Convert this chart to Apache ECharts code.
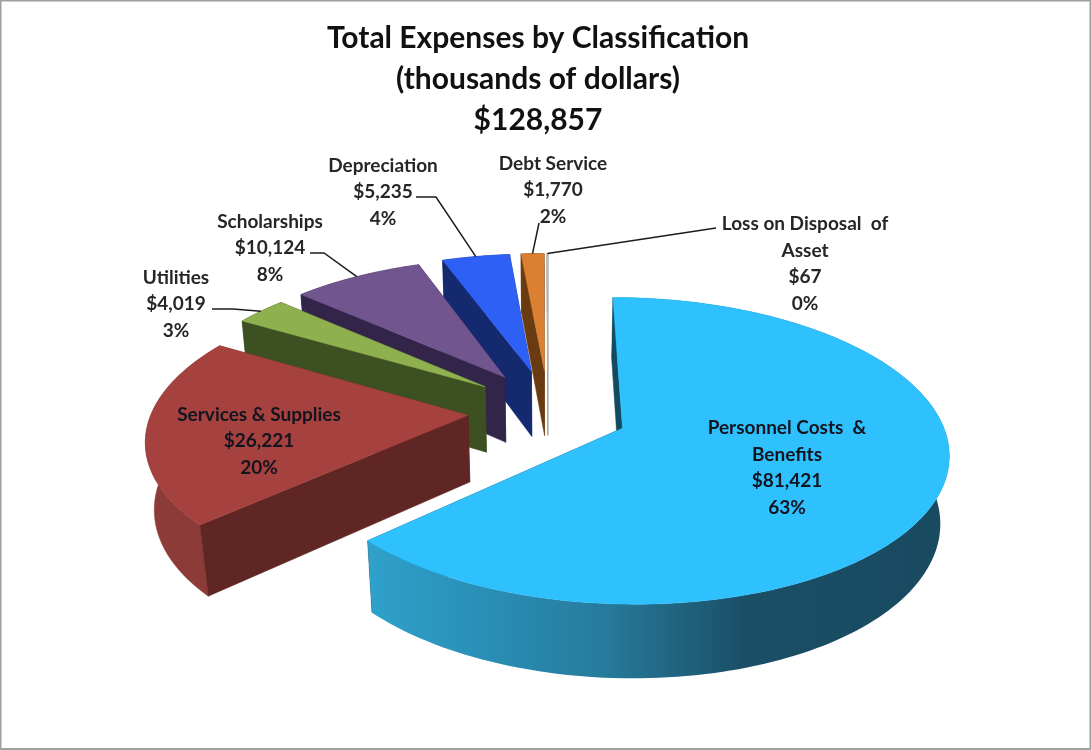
<!DOCTYPE html>
<html><head><meta charset="utf-8">
<style>html,body{margin:0;padding:0;background:#fff}#c{width:1091px;height:750px;filter:blur(0.45px)}</style>
<script src="https://cdn.jsdelivr.net/npm/echarts@6/dist/echarts.min.js"></script>
</head><body><div id="c"></div>
<script>
const titleLines = ['Total Expenses by Classification', '(thousands of dollars)', '$128,857'];
const categories = ['Personnel Costs  &\nBenefits', 'Services & Supplies', 'Utilities', 'Scholarships', 'Depreciation', 'Debt Service', 'Loss on Disposal  of\nAsset'];
const values = [81421, 26221, 4019, 10124, 5235, 1770, 67];
const amountLabels = ['$81,421', '$26,221', '$4,019', '$10,124', '$5,235', '$1,770', '$67'];
const percentLabels = ['63%', '20%', '3%', '8%', '4%', '2%', '0%'];

// colours: top face, radial wall, outer wall
const topColors = ['#2fc1fe', '#a5423f', '#8fb04f', '#71558f', '#2f60f5', '#d98033', '#e4e4e4'];
const wallColors = ['#124a5f', '#5f2623', '#3c5021', '#33254a', '#15296f', '#6a3a10', '#9a9a9a'];
const rimColors = ['#1a4f66', '#8d3b38', '#3c5021', '#33254a', '#15296f', '#6a3a10', '#9a9a9a'];

// projection of the tilted, exploded pie
const vx = 548, cy = 411, q = 0.001, wallH = 68, wallW = 0.022;
const RU = 316, RV = 145, EU = 80, EV = 42;
const project = (U, V, h) => { const w = 1 - q * V + wallW * h; return [vx + U / w, cy + (V + wallH * h) / w]; };

const total = values.reduce((a, b) => a + b, 0);
let acc = 0;
const angles = values.map(v => { const a0 = acc / total * 2 * Math.PI; acc += v; return [a0, acc / total * 2 * Math.PI]; });
const pt = (i, ang, r, h) => {
  const mid = (angles[i][0] + angles[i][1]) / 2;
  return project(EU * Math.sin(mid) + r * RU * Math.sin(ang), -EV * Math.cos(mid) - r * RV * Math.cos(ang), h);
};
const arc = (i, h) => {
  const [a0, a1] = angles[i], n = Math.max(2, Math.ceil((a1 - a0) / 0.025)), out = [];
  for (let k = 0; k <= n; k++) out.push(pt(i, a0 + (a1 - a0) * k / n, 1, h));
  return out;
};
const poly = (points, fill, extra) => ({ type: 'polygon', shape: { points }, style: Object.assign({ fill, stroke: typeof fill === 'string' ? fill : null, lineWidth: 0.5 }, extra || {}) });
const personnelRim = { type: 'linear', global: true, x: 360, y: 0, x2: 950, y2: 0,
  colorStops: [{ offset: 0, color: '#2fa2cc' }, { offset: 0.2, color: '#2a90b7' }, { offset: 0.42, color: '#267a9b' }, { offset: 0.65, color: '#1a4f66' }, { offset: 1, color: '#184a60' }] };

function renderSlice(params, api) {
  const i = api.value(0), [a0, a1] = angles[i];
  const top0 = arc(i, 0), bot = arc(i, 1);
  const rim = i === 0 ? personnelRim : rimColors[i];
  const children = [
    poly([pt(i, a1, 0, 0), pt(i, a1, 1, 0), pt(i, a1, 1, 1), pt(i, a1, 0, 1)], wallColors[i]),
    poly(top0.concat(bot.slice().reverse()), rim),
    poly([pt(i, a0, 0, 0), pt(i, a0, 1, 0), pt(i, a0, 1, 1), pt(i, a0, 0, 1)], wallColors[i]),
    poly([pt(i, a0, 0, 0)].concat(top0), topColors[i], i === 6 ? { stroke: '#b5b5b5', lineWidth: 1 } : null)
  ];
  return { type: 'group', children };
}

// label placement: centre x, centre y, knee points of the leader (if any)
const labelLayout = [
  { x: 787, y: 468 },
  { x: 259, y: 441 },
  { x: 176, y: 304, leader: [[212, 309], [233, 309]] },
  { x: 270, y: 248, leader: [[310, 253], [324, 253]] },
  { x: 383, y: 192, leader: [[416, 197], [436, 197]] },
  { x: 553, y: 190, leader: [[539, 223]] },
  { x: 805, y: 264, leader: [[716, 228]] }
];
function renderLabel(params, api) {
  const i = api.value(0), l = labelLayout[i], [a0, a1] = angles[i], children = [];
  if (l.leader) {
    children.push({ type: 'polyline', shape: { points: l.leader.concat([pt(i, (a0 + a1) / 2, 1, 0)]) },
      style: { fill: null, stroke: '#1c1c1c', lineWidth: 1.5 } });
  }
  children.push({ type: 'text', style: { text: categories[i] + '\n' + amountLabels[i] + '\n' + percentLabels[i],
    x: l.x, y: l.y, align: 'center', verticalAlign: 'middle', fontFamily: 'Lato', fontWeight: 'bold', fontSize: 19, lineHeight: 26.6, fill: i < 2 ? '#14141e' : '#262626' } });
  return { type: 'group', children };
}

const order = values.map((_, i) => [i]).reverse();
const chart = echarts.init(document.getElementById('c'), null, { renderer: 'canvas' });
chart.setOption({
  animation: false,
  backgroundColor: '#fff',
  title: { text: titleLines.join('\n'), left: 538, textAlign: 'center', top: 18, padding: 0,
    textStyle: { fontFamily: 'Lato', fontWeight: 'bold', fontSize: 30, lineHeight: 41, color: '#111' } },
  graphic: [{ type: 'rect', shape: { x: 0.5, y: 0.5, width: 1090, height: 748.5 }, style: { fill: null, stroke: '#a0a0a0', lineWidth: 2 }, silent: true }],
  series: [
    { type: 'custom', coordinateSystem: 'none', silent: true, z: 2, data: order, renderItem: renderSlice, clip: false },
    { type: 'custom', coordinateSystem: 'none', silent: true, z: 3, data: order, renderItem: renderLabel, clip: false }
  ]
});
</script></body></html>
